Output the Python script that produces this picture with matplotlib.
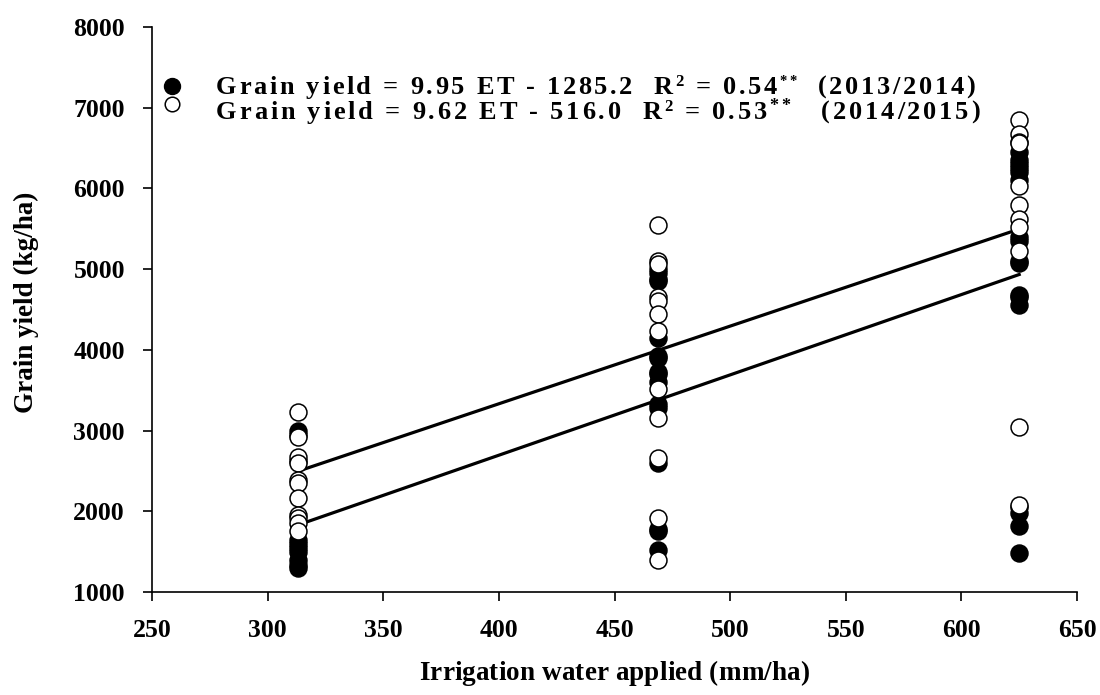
import matplotlib
matplotlib.use("Agg")
import matplotlib.pyplot as plt
from matplotlib.transforms import IdentityTransform
import numpy as np

# ---- data ----
x_levels = [313, 469, 625]

y_2013_313 = [2990, 2950, 2620, 1640, 1590, 1550, 1500, 1400, 1330, 1300]
y_2013_469 = [5000, 4950, 4880, 4850, 4150, 3930, 3900, 3730, 3700, 3600, 3330, 3280, 2600, 1780, 1750, 1520]
y_2013_625 = [6450, 6350, 6300, 6250, 6200, 6100, 5400, 5350, 5100, 5070, 4680, 4650, 4550, 2050, 1980, 1820, 1480]

y_2014_313 = [3230, 2920, 2670, 2600, 2390, 2350, 2160, 1950, 1920, 1850, 1750]
y_2014_469 = [5550, 5100, 5060, 4650, 4600, 4450, 4230, 3520, 3160, 2660, 1920, 1400]
y_2014_625 = [6850, 6680, 6580, 6560, 6030, 5800, 5620, 5520, 5230, 3040, 2080]

slope_2013, intercept_2013 = 9.95, -1285.2
slope_2014, intercept_2014 = 9.62, -516.0

x_ticks = [250, 300, 350, 400, 450, 500, 550, 600, 650]
y_ticks = [1000, 2000, 3000, 4000, 5000, 6000, 7000, 8000]

x_title = "Irrigation water applied (mm/ha)"
y_title = "Grain yield (kg/ha)"

# ---- style ----
plt.rcParams['font.family'] = 'Liberation Serif'
plt.rcParams['font.weight'] = 'bold'

W, H = 1100, 695
fig = plt.figure(figsize=(W / 100, H / 100), dpi=100)
ax = fig.add_axes([152 / W, 1 - 592 / H, 925 / W, 565 / H])

ms = 12.2
for xv, ys in zip(x_levels, [y_2013_313, y_2013_469, y_2013_625]):
    ax.plot([xv] * len(ys), ys, 'o', ms=ms, mfc='black', mec='black', mew=1.1, ls='none', zorder=3)
for xv, ys in zip(x_levels, [y_2014_313, y_2014_469, y_2014_625]):
    ax.plot([xv] * len(ys), ys, 'o', ms=ms, mfc='white', mec='black', mew=1.1, ls='none', zorder=4)

xl = np.array([x_levels[0], x_levels[-1]])
ax.plot(xl, slope_2013 * xl + intercept_2013, color='black', lw=2.3, zorder=2)
ax.plot(xl, slope_2014 * xl + intercept_2014, color='black', lw=2.3, zorder=2)

ax.set_xlim(250, 650)
ax.set_ylim(1000, 8000)
ax.set_xticks(x_ticks)
ax.set_yticks(y_ticks)
ax.spines['top'].set_visible(False)
ax.spines['right'].set_visible(False)
for s in ['left', 'bottom']:
    ax.spines[s].set_linewidth(1.2)
ax.tick_params(direction='out', length=6.5, width=1.2, labelsize=18.5, pad=13)
for lab in ax.get_xticklabels() + ax.get_yticklabels():
    lab.set_fontweight('bold')

ax.set_ylabel(y_title, fontsize=19.5, fontweight='bold')
ax.yaxis.set_label_coords(-0.122, 0.513)

renderer = fig.canvas.get_renderer()


def tracked(x0, y_img, segs, target_w=None, center=False):
    """Draw letter-spaced text; x0, y_img in image pixels (baseline)."""
    items = []
    for s, size, dy in segs:
        for ch in s:
            if ch == ' ':
                items.append((None, size * 100 / 72 * 0.25, 0))
            else:
                t = fig.text(0, 0, ch, fontsize=size, fontweight='bold',
                             va='baseline', ha='left', transform=IdentityTransform())
                w = t.get_window_extent(renderer).width
                items.append((t, w, dy))
    w0 = sum(w for _, w, _ in items)
    gap = (target_w - w0) / (len(items) - 1)
    x = x0 - target_w / 2 if center else x0
    y = H - y_img
    for t, w, dy in items:
        if t is not None:
            t.set_position((x, y + dy))
        x += w + gap


# legend (manual, letter-spaced like the original)
ax.plot([0.022], [(592 - 86) / 565], 'o', ms=11.5, mfc='black', mec='black',
        transform=ax.transAxes, clip_on=False)
ax.plot([0.022], [(592 - 104) / 565], 'o', ms=10.5, mfc='white', mec='black', mew=1.1,
        transform=ax.transAxes, clip_on=False)

tracked(216, 94, [("Grain yield = 9.95 ET - 1285.2  R", 19, 0), ("2", 12, 8),
                  (" = 0.54", 19, 0), ("**", 10.5, 9), ("  (2013/2014)", 19, 0)],
        target_w=759)
tracked(216, 119, [("Grain yield = 9.62 ET - 516.0  R", 19, 0), ("2", 12, 8),
                   (" = 0.53", 19, 0), ("**", 13, 8), ("   (2014/2015)", 19, 0)],
        target_w=764)

# x axis title (letter-spaced)
tracked(614, 680, [(x_title, 19.5, 0)], target_w=390, center=True)

fig.savefig("out.png", dpi=100)
